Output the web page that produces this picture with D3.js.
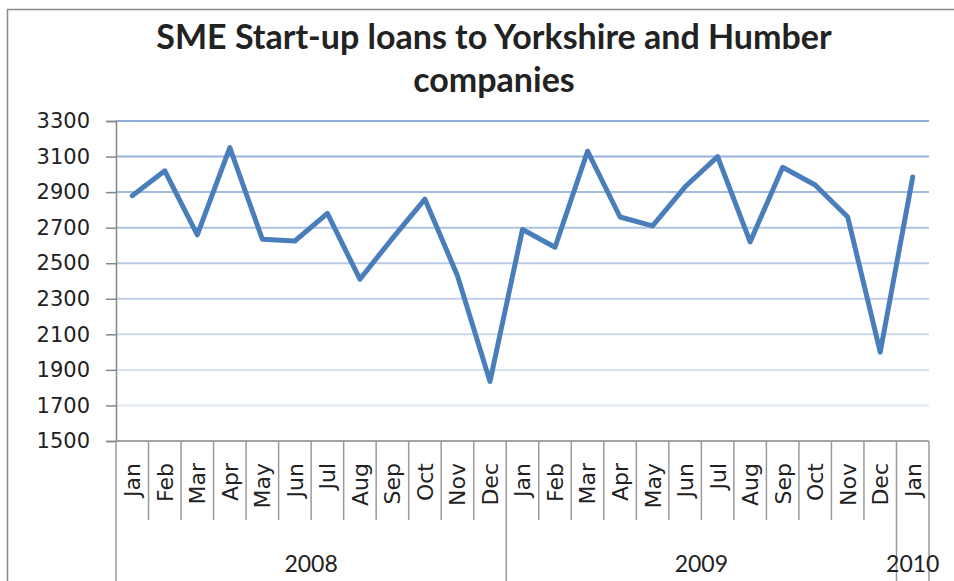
<!DOCTYPE html>
<html>
<head>
<meta charset="utf-8">
<script src="https://cdn.jsdelivr.net/npm/d3@7"></script>
<style>
    body { margin: 0; background: #fff; }
    svg { display: block; }
</style>
</head>
<body>
<div id="chart"></div>
<script>
// monthly values, Jan 2008 .. Jan 2010
const months = ['Jan','Feb','Mar','Apr','May','Jun','Jul','Aug','Sep','Oct','Nov','Dec',
                'Jan','Feb','Mar','Apr','May','Jun','Jul','Aug','Sep','Oct','Nov','Dec',
                'Jan'];
const loans = [2880, 3020, 2660, 3150, 2635, 2625, 2780, 2410, 2640, 2860, 2430, 1835,
               2690, 2590, 3130, 2760, 2710, 2930, 3100, 2620, 3040, 2940, 2760, 2000,
               2985];
const years = [
    { label: '2008', first: 0, count: 12 },
    { label: '2009', first: 12, count: 12 },
    { label: '2010', first: 24, count: 1 }
];
const yTicks = [1500, 1700, 1900, 2100, 2300, 2500, 2700, 2900, 3100, 3300];
const titleLines = ['SME Start-up loans to Yorkshire and Humber', 'companies'];

const width = 954, height = 581;
const plot = { left: 116, right: 929, top: 121, bottom: 441 };

const svg = d3.select('#chart').append('svg')
    .attr('width', width)
    .attr('height', height);

// outer chart frame (runs off the right and bottom of the picture)
svg.append('rect')
    .attr('x', 7.5).attr('y', 9.5)
    .attr('width', 1000).attr('height', 1000)
    .attr('fill', 'none')
    .attr('stroke', '#8a8a8a')
    .attr('stroke-width', 1.5);

// title
svg.append('g').selectAll('text')
    .data(titleLines)
    .join('text')
    .attr('x', 494)
    .attr('y', (d, i) => 49 + i * 43)
    .attr('text-anchor', 'middle')
    .style('font-family', 'Lato, sans-serif')
    .style('font-weight', 700)
    .style('font-size', '34px')
    .style('fill', '#222')
    .text(d => d);

// scales
const x = d3.scaleBand()
    .domain(d3.range(loans.length))
    .range([plot.left, plot.right])
    .padding(0);

const y = d3.scaleLinear()
    .domain([1500, 3300])
    .range([plot.bottom, plot.top]);

// gridlines, fading from blue at top to pale at bottom
const gridColor = d3.scaleLinear()
    .domain([1700, 3300])
    .range(['#dfe7f3', '#8eadd9']);

svg.append('g')
    .selectAll('line')
    .data(yTicks.filter(t => t > 1500))
    .join('line')
    .attr('x1', plot.left)
    .attr('x2', plot.right)
    .attr('y1', d => y(d))
    .attr('y2', d => y(d))
    .attr('stroke', d => gridColor(d))
    .attr('stroke-width', 2);

// y axis
const yAxis = svg.append('g')
    .attr('transform', `translate(${plot.left},0)`)
    .call(d3.axisLeft(y).tickValues(yTicks).tickSize(10).tickPadding(16).tickFormat(d3.format('d')));

yAxis.select('.domain').attr('stroke', '#868686').attr('stroke-width', 1.5);
yAxis.selectAll('.tick line').attr('stroke', '#868686').attr('stroke-width', 1.5);
yAxis.selectAll('.tick text')
    .style('font-family', '"DejaVu Sans", sans-serif')
    .style('font-size', '21px')
    .style('fill', '#222');

// category axis
const xg = svg.append('g');

xg.append('line')
    .attr('x1', plot.left).attr('x2', plot.right)
    .attr('y1', plot.bottom).attr('y2', plot.bottom)
    .attr('stroke', '#868686')
    .attr('stroke-width', 1.5);

// boundaries between categories; year boundaries run to the bottom
const yearEdges = new Set(years.map(d => d.first).concat([loans.length]));
const edges = d3.range(loans.length + 1);

xg.selectAll('.cat-tick')
    .data(edges)
    .join('line')
    .attr('class', 'cat-tick')
    .attr('x1', i => i < loans.length ? x(i) : plot.right)
    .attr('x2', i => i < loans.length ? x(i) : plot.right)
    .attr('y1', plot.bottom)
    .attr('y2', i => yearEdges.has(i) ? height : 520)
    .attr('stroke', '#9a9a9a')
    .attr('stroke-width', 1.5);

// month labels, rotated
xg.selectAll('.month')
    .data(months)
    .join('text')
    .attr('class', 'month')
    .attr('transform', (d, i) => `translate(${x(i) + x.bandwidth() / 2},463) rotate(-90)`)
    .attr('text-anchor', 'end')
    .attr('dy', '0.36em')
    .style('font-family', '"DejaVu Sans", sans-serif')
    .style('font-size', '22px')
    .style('fill', '#222')
    .text(d => d);

// year labels
xg.selectAll('.year')
    .data(years)
    .join('text')
    .attr('class', 'year')
    .attr('x', d => (x(d.first) + (d.first + d.count < loans.length ? x(d.first + d.count) : plot.right)) / 2)
    .attr('y', 572)
    .attr('text-anchor', 'middle')
    .style('font-family', 'Lato, sans-serif')
    .style('font-size', '23px')
    .style('fill', '#222')
    .text(d => d.label);

// the series
const line = d3.line()
    .x((d, i) => x(i) + x.bandwidth() / 2)
    .y(d => y(d));

svg.append('path')
    .datum(loans)
    .attr('d', line)
    .attr('fill', 'none')
    .attr('stroke', '#4a7ebb')
    .attr('stroke-width', 5)
    .attr('stroke-linejoin', 'round')
    .attr('stroke-linecap', 'round');
</script>
</body>
</html>
